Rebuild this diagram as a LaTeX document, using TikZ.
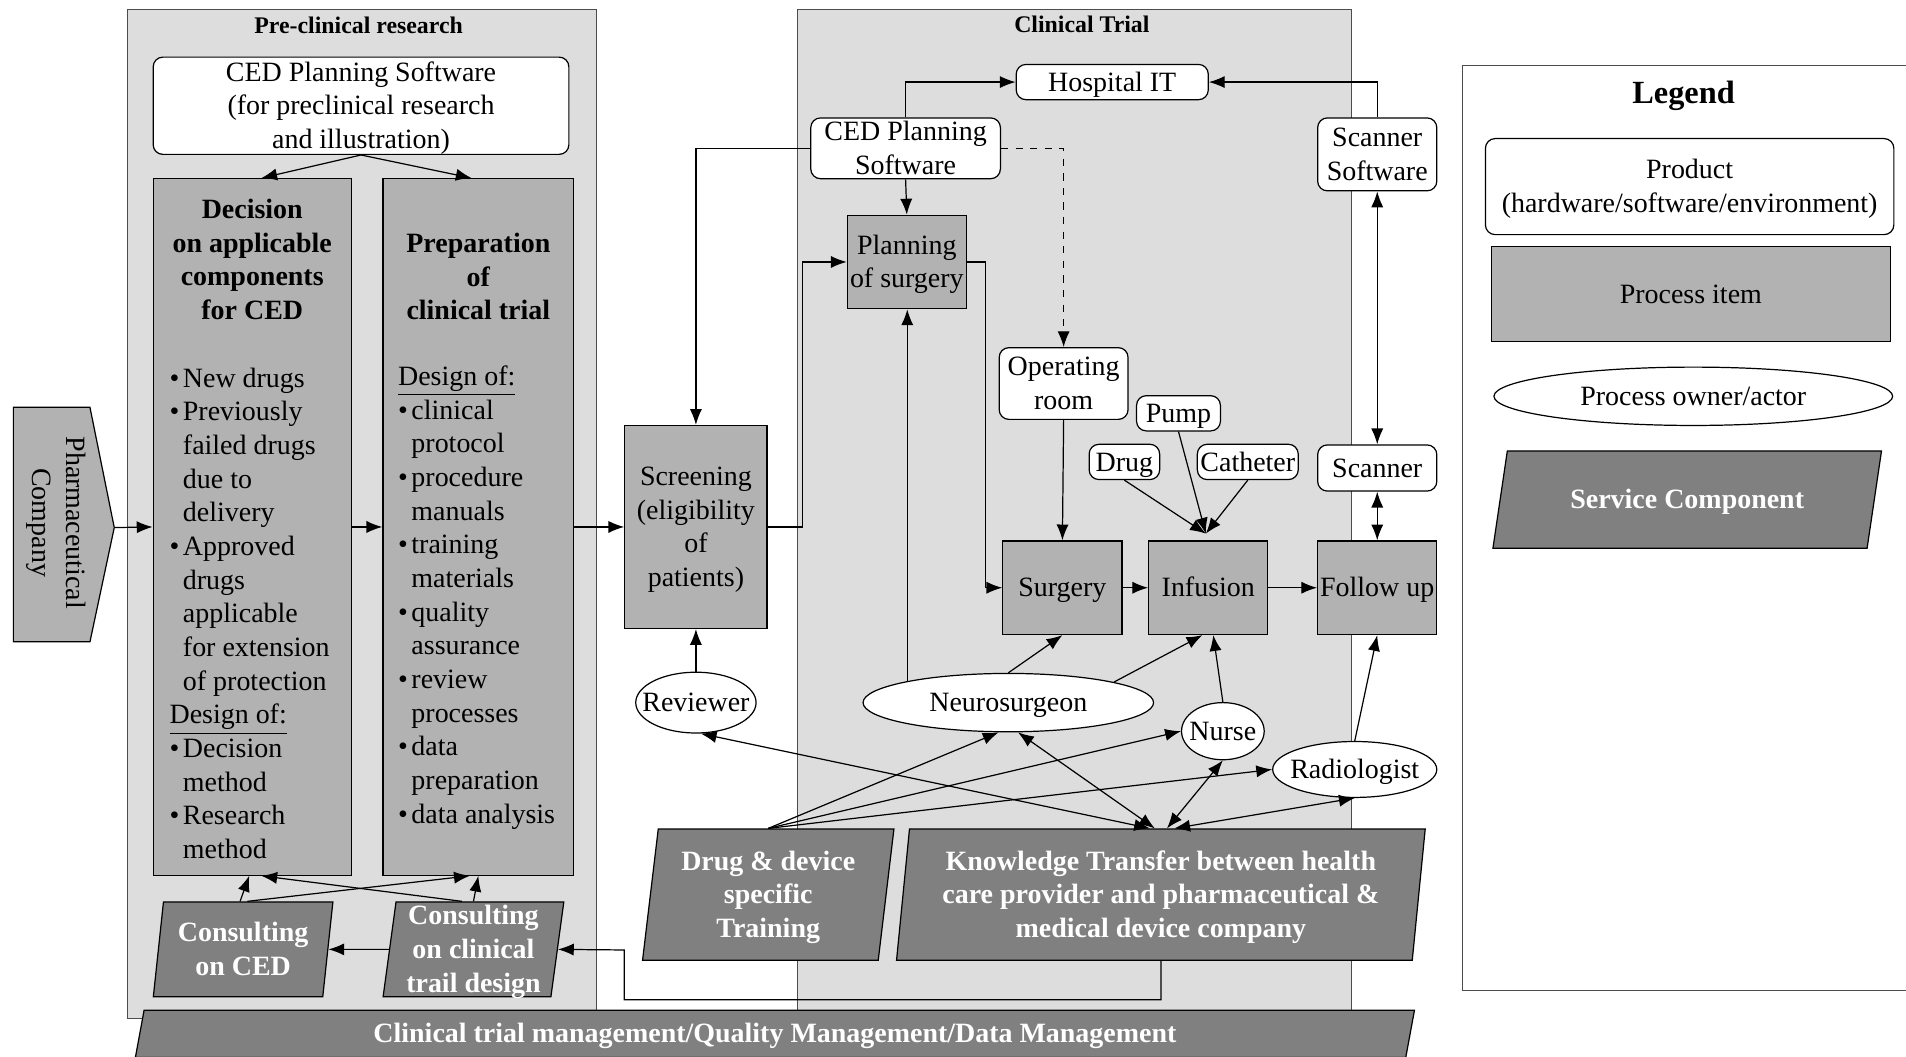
\documentclass[tikz,border=0pt]{standalone}
\usepackage{fontspec}
\setmainfont{Liberation Serif}
\usetikzlibrary{shapes.geometric,arrows.meta}
\definecolor{stagebg}{HTML}{DDDDDD}
\definecolor{procfill}{HTML}{B2B2B2}
\definecolor{servfill}{HTML}{808080}
\newcommand{\bul}{\makebox[5.5pt][l]{\textbullet}}
\newcommand{\ind}{\hspace*{5.5pt}}
\newcommand{\sline}{\rule[-3pt]{0pt}{13.5pt}}

\begin{document}
\begin{tikzpicture}[x=0.5pt,y=-0.5pt,line width=0.5pt,>={Latex[length=6.5pt,width=5pt]},
    font=\fontsize{11.5}{13.85}\selectfont,
    stage/.style ={draw=black!70, fill=stagebg, inner sep=0pt},
    product/.style ={draw, fill=white, rounded corners=4pt, align=center, inner sep=0.5pt,
      execute at begin node=\sline},
    process/.style ={draw, fill=procfill, align=center, inner sep=0.5pt,
      execute at begin node=\sline},
    actor/.style ={ellipse, draw, fill=white, inner xsep=-6pt, inner ysep=0pt,
      execute at begin node=\sline},
    service/.style ={trapezium, trapezium stretches=true, trapezium left angle=#1,
      trapezium right angle=180-#1, draw, fill=servfill, text=white, align=center,
      inner sep=0.5pt, font=\fontsize{11.5}{13.85}\selectfont\bfseries,
      execute at begin node=\sline},
    service/.default=83,
    heading/.style ={font=\fontsize{9.8}{12}\selectfont\bfseries}]
   \useasboundingbox (0,0) rectangle (1568,869);
   \clip (0,0) rectangle (1568,869);
   % the two phases
   \node[stage, minimum width=193pt, minimum height=415pt] (pre) at (298,423) {};
   \node[heading] (pretitle) at (295,21) {Pre-clinical research};
   \node[stage, minimum width=228pt, minimum height=415pt] (clin) at (884,423) {};
   \node[heading] (clintitle) at (890,20) {Clinical Trial};
   % legend
   \node[draw=black!70, fill=white, inner sep=0pt, minimum width=193.5pt, minimum height=380.5pt] (legend) at (1396.5,434.5) {};
   \node[font=\fontsize{13.3}{16}\selectfont\bfseries] (legendtitle) at (1385,79) {Legend};
   \node[product, minimum width=168pt, minimum height=39.5pt] (lprod) at (1390,153.5) {\sline Product\\(hardware/software/environment)};
   \node[process, minimum width=164pt, minimum height=39pt] (lproc) at (1391,242) {Process item};
   \node[actor, minimum width=164pt, minimum height=24pt] (lact) at (1393,326) {Process owner/actor};
   \node[service=75, minimum width=160pt, minimum height=40pt] (lserv) at (1388,411) {Service Component};
   % pharmaceutical company
   \draw[fill=procfill] (11,335) -- (74,335) -- (94,434) -- (74,528) -- (11,528) -- cycle;
   \coordinate (pharmatip) at (94,434);
   \node[rotate=-90, align=center] (pharma) at (46,430) {Pharmaceutical\\Company};
   % pre-clinical research
   \node[product, minimum width=171pt, minimum height=40pt, inner ysep=-1.5pt] (cedpre) at (297,87) {\sline CED Planning Software\\(for preclinical research\\and illustration)};
   \node[process, minimum width=81.5pt, minimum height=286.5pt] (decide) at (207.5,433.5) {};
   \node[font=\fontsize{11.5}{13.85}\selectfont\bfseries, align=center] (decidetitle) at (207.5,213.5) {Decision\\on applicable\\components\\for CED};
   \node[align=left, anchor=west, inner sep=0pt] (decidelist) at (139,504.5) {\bul New drugs\\
     \bul Previously\\ \ind failed drugs\\ \ind due to\\ \ind delivery\\
     \bul Approved\\ \ind drugs\\ \ind applicable\\ \ind for extension\\ \ind of protection\\
     \underline{Design of:}\\
     \bul Decision\\ \ind method\\
     \bul Research\\ \ind method};
   \node[process, minimum width=78.5pt, minimum height=286.5pt] (prep) at (393.5,433.5) {};
   \node[font=\fontsize{11.5}{13.85}\selectfont\bfseries, align=center] (preptitle) at (393.5,227.5) {Preparation\\of\\clinical trial};
   \node[align=left, anchor=west, inner sep=0pt] (preplist) at (327,491.5) {\underline{Design of:}\\
     \bul clinical\\ \ind protocol\\
     \bul procedure\\ \ind manuals\\
     \bul training\\ \ind materials\\
     \bul quality\\ \ind assurance\\
     \bul review\\ \ind processes\\
     \bul data\\ \ind preparation\\
     \bul data analysis};
   \node[service, minimum width=74pt, minimum height=39pt] (concED) at (200,781) {\sline Consulting\\on CED};
   \node[service, minimum width=74.5pt, minimum height=39pt, inner ysep=-1.5pt] (contrial) at (389.5,781) {\sline Consulting\\on clinical\\trail design};
   % clinical trial
   \node[process, minimum width=58.5pt, minimum height=83.5pt] (screen) at (572.5,433.5) {\sline Screening\\(eligibility\\of\\patients)};
   \node[product, minimum width=79pt, minimum height=14.5pt] (hosp) at (915,67.5) {Hospital IT};
   \node[product, minimum width=78pt, minimum height=25pt, inner ysep=-1.5pt] (cedclin) at (745,122) {\sline CED Planning\\Software};
   \node[product, minimum width=49pt, minimum height=30pt] (scansw) at (1133,127) {\sline Scanner\\Software};
   \node[process, minimum width=49pt, minimum height=38.5pt] (plan) at (746,215.5) {\sline Planning\\of surgery};
   \node[product, minimum width=53pt, minimum height=29.5pt] (oproom) at (875,315.5) {\sline Operating\\room};
   \node[product, minimum width=34.5pt, minimum height=14pt] (pump) at (969.5,340) {Pump};
   \node[product, minimum width=29pt, minimum height=14pt] (drug) at (925,380) {Drug};
   \node[product, minimum width=41.5pt, minimum height=14pt] (cath) at (1026.5,380) {Catheter};
   \node[product, minimum width=49pt, minimum height=19pt] (scanner) at (1133,385) {Scanner};
   \node[process, minimum width=49pt, minimum height=38.5pt] (surgery) at (874,483.5) {Surgery};
   \node[process, minimum width=49pt, minimum height=38.5pt] (infusion) at (994,483.5) {Infusion};
   \node[process, minimum width=49pt, minimum height=38.5pt] (follow) at (1133,483.5) {Follow up};
   \coordinate (feed) at (992,439);
   \node[actor, minimum width=49.5pt, minimum height=25pt] (reviewer) at (572.5,578) {Reviewer};
   \node[actor, minimum width=119.5pt, minimum height=24pt] (neuro) at (829.5,578) {Neurosurgeon};
   \node[actor, minimum width=34pt, minimum height=23.5pt] (nurse) at (1006,601.5) {Nurse};
   \node[actor, minimum width=67.5pt, minimum height=23pt] (radio) at (1114.5,633) {Radiologist};
   \node[service, minimum width=104pt, minimum height=54pt] (training) at (632,736) {\sline Drug \& device\\specific\\Training};
   \node[service=83.7, minimum width=218pt, minimum height=54pt] (kt) at (955,736) {\sline Knowledge Transfer between health\\care provider and pharmaceutical \&\\medical device company};
   \node[service=81, minimum width=526.5pt, minimum height=19.5pt] (band) at (637.5,850.5) {Clinical trial management/Quality Management/Data Management};
   % flow
   \draw[->] (pharmatip) -- (decide.west);
   \draw[->] (decide.east) -- (prep.west);
   \draw[->] (prep.east) -- (screen.west);
   \draw[->] (cedpre.south) -- ([xshift=3.75pt]decide.north);
   \draw[->] (cedpre.south) -- ([xshift=-2.75pt]prep.north);
   \draw[->] ([xshift=-1.25pt]concED.north) -- ([xshift=-1.25pt]decide.south);
   \draw[->] ([xshift=1.75pt]concED.north) -- ([xshift=-3.5pt]prep.south);
   \draw[->] ([xshift=-4.75pt]contrial.north) -- ([xshift=3.75pt]decide.south);
   \draw[->] (contrial.north) -- (prep.south);
   \draw[->] (contrial.west) -- (concED.east);
   \draw[->] (kt.south) -- ++(0,32) -| ++(-441.5,-41) -- (contrial.east);
   \draw[->] (cedclin.north) |- (hosp.west);
   \draw[->] (scansw.north) |- (hosp.east);
   \draw[->] (cedclin.west) -| (screen.north);
   \draw[->] (cedclin.south) -- (plan.north);
   \draw[->,dashed] (cedclin.east) -| (oproom.north);
   \draw[->] (screen.east) -- ++(29,0) |- (plan.west);
   \draw[->] (plan.east) -- ++(15,0) |- (surgery.west);
   \draw[->] (oproom.south) -- (surgery.north);
   \draw[->] (drug.south) -- (feed);
   \draw[->] (pump.south) -- (feed);
   \draw[->] (cath.south) -- (feed);
   \draw[<->] (scansw.south) -- (scanner.north);
   \draw[<->] (scanner.south) -- (follow.north);
   \draw[->] (surgery) -- (infusion);
   \draw[->] (infusion) -- (follow);
   % actors
   \draw[->] (reviewer.north) -- (screen.south);
   \draw[->] (neuro.168) -- (neuro.168 |- plan.south);
   \draw[->] (neuro.north) -- (surgery.south);
   \draw[->] (neuro.11) -- (infusion.263);
   \draw[->] (nurse.north) -- (infusion.276);
   \draw[->] (radio.north) -- (follow.south);
   \draw[->] (training.north) -- ([xshift=-4pt]neuro.south);
   \draw[->] (training.north) -- (nurse.west);
   \draw[->] (training.north) -- (radio.west);
   \draw[<->] ([xshift=2pt]reviewer.south) -- ([xshift=-4.5pt]kt.north);
   \draw[<->] ([xshift=4pt]neuro.south) -- ([xshift=-2.5pt]kt.north);
   \draw[<->] (nurse.south) -- ([xshift=2.5pt]kt.north);
   \draw[<->] (radio.south) -- ([xshift=5.5pt]kt.north);
 \end{tikzpicture}
\end{document}
